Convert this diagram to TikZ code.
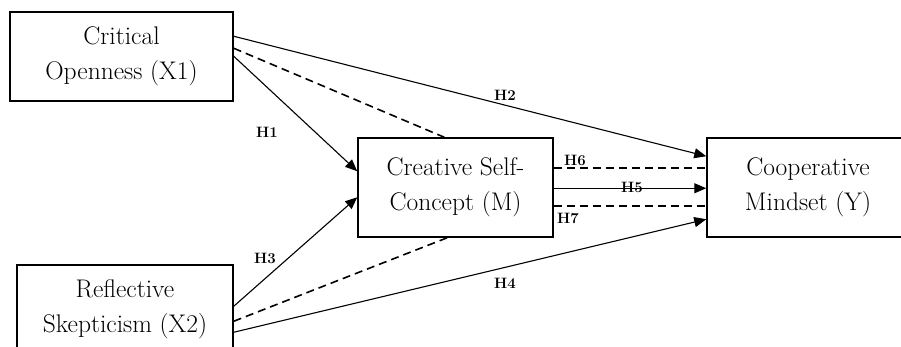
\documentclass[tikz,border=0pt]{standalone}
\usetikzlibrary{arrows.meta}
\tikzset{
  box/.style={draw, line width=1.5pt, align=center, inner sep=0pt,
    font=\fontsize{25.5}{35}\selectfont},
  lbl/.style={inner sep=0pt, font=\fontsize{15}{17}\selectfont\bfseries},
  conn/.style={line width=1.1pt},
  arr/.style={conn, -{Triangle[length=12pt,width=10pt]}},
  dsh/.style={line width=1.6pt, dash pattern=on 8pt off 5pt},
}
\begin{document}
\begin{tikzpicture}[x=1pt,y=-1pt]
\useasboundingbox (0,0) rectangle (901,347);
\clip (0,0) rectangle (901,347);
\fill[white] (0,0) rectangle (901,347);
\node[box, minimum width=223pt, minimum height=89pt] (x1) at (121.5,56.5) {Critical\\Openness (X1)};
\node[box, minimum width=216pt, minimum height=89pt] (x2) at (125,309.5) {Reflective\\Skepticism (X2)};
\node[box, minimum width=195pt, minimum height=99pt] (m) at (455.5,187.5) {Creative Self-\\Concept (M)};
\node[box, minimum width=202pt, minimum height=99pt] (yy) at (808,187.5) {Cooperative\\Mindset (Y)};
% X1 connectors
\draw[arr] ([yshift=-25pt]x1.north east) -- ([yshift=-19pt]yy.north west);
\draw[dsh] ([yshift=-37pt]x1.north east) -- ([xshift=87pt]m.north west);
\draw[arr] ([yshift=-45pt]x1.north east) -- ([yshift=-34pt]m.north west);
% X2 connectors
\draw[arr] ([yshift=-42pt]x2.north east) -- ([yshift=-60pt]m.north west);
\draw[dsh] ([yshift=-57pt]x2.north east) -- ([xshift=90pt]m.south west);
\draw[arr] ([yshift=-68pt]x2.north east) -- ([yshift=-82pt]yy.north west);
% M to Y
\draw[dsh] ([yshift=-31pt]m.north east) -- ([yshift=-31pt]yy.north west);
\draw[arr] ([yshift=-51pt]m.north east) -- ([yshift=-51pt]yy.north west);
\draw[dsh] ([yshift=-69pt]m.north east) -- ([yshift=-69pt]yy.north west);
% labels
\node[lbl] (h1) at (267,132) {H1};
\node[lbl] (h2) at (505,95) {H2};
\node[lbl] (h3) at (265,258) {H3};
\node[lbl] (h4) at (505,283) {H4};
\node[lbl] (h5) at (632,187) {H5};
\node[lbl] (h6) at (575,160) {H6};
\node[lbl] (h7) at (568,218) {H7};
\end{tikzpicture}
\end{document}
